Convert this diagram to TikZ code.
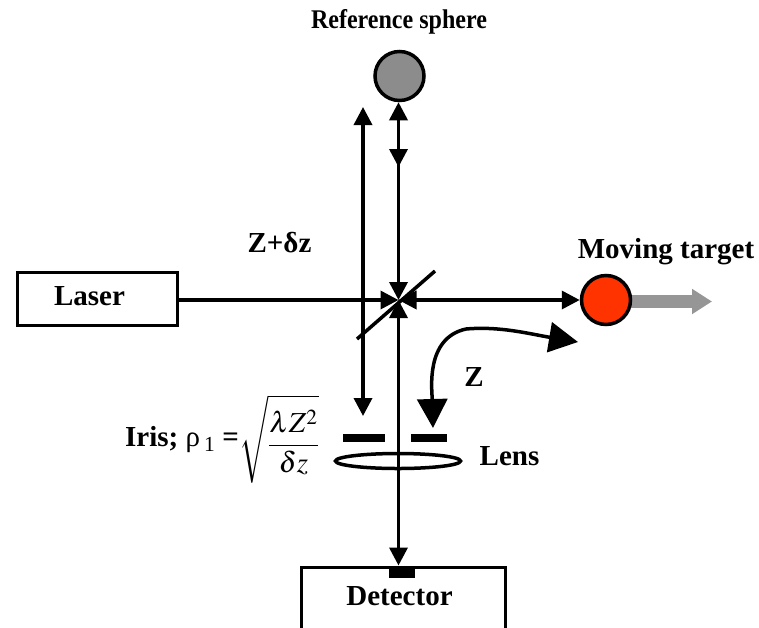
\documentclass[tikz,border=0pt]{standalone}
\usepackage{mathptmx}
\usepackage[no-math]{fontspec}
\setmainfont{Liberation Serif}
\usetikzlibrary{arrows.meta,shapes}
\definecolor{targetred}{RGB}{255,51,0}
\definecolor{spheregray}{RGB}{140,140,140}
\definecolor{motiongray}{RGB}{150,150,150}
\tikzset{
 lbl/.style={font=\fontsize{29}{32}\selectfont\bfseries,inner sep=0pt},
 box/.style={rectangle,draw,line width=3pt,inner sep=0pt},
 sphere/.style={circle,draw,line width=3.5pt,minimum size=49pt,inner sep=0pt},
 bar/.style={rectangle,fill=black,inner sep=0pt},
 beam/.style={line width=3.5pt,{Triangle[length=18pt,width=18pt]}-{Triangle[length=18pt,width=18pt]}},
 ray/.style={line width=3.5pt,-{Triangle[length=18pt,width=18pt]}},
 bigtip/.style={line width=3.5pt,{Triangle[length=29pt,width=30pt]}-{Triangle[length=29pt,width=30pt]}}
}
\begin{document}
\begin{tikzpicture}[x=1pt,y=-1pt]
 \useasboundingbox (0,0) rectangle (759,627);
 \clip (0,0) rectangle (759,627);
 % boxes
 \node [box,minimum width=160pt,minimum height=53pt] (laser) at (97,298.5) {};
 \node [lbl] (laserText) at (89.5,296) {Laser};
 \node [box,minimum width=204pt,minimum height=80pt] (detector) at (403,607) {};
 \node [bar,minimum width=26pt,minimum height=11pt] (pad) at (402,572.5) {};
 \node [lbl] (detectorText) at (399.5,596) {Detector};
 % gray arrow goes under the target
 \coordinate (arrowStart) at (606,301.5);
 \coordinate (arrowEnd) at (712,301.5);
 \draw [line width=13pt,motiongray,-{Triangle[length=20pt,width=24pt]}] (arrowStart) -- (arrowEnd);
 % spheres
 \node [sphere,fill=spheregray] (refSphere) at (399.5,76) {};
 \node [sphere,fill=targetred] (target) at (606,300) {};
 \node [lbl,font=\fontsize{27}{30}\selectfont\bfseries,xscale=0.89,transform shape] (refText) at (399,22) {Reference sphere};
 \node [lbl] (targetText) at (666,252) {Moving target};
 % points on the beams
 \coordinate (mirror) at (398.5,300);
 \coordinate (mirrorA) at (357,339);
 \coordinate (mirrorB) at (435,271);
 \coordinate (split) at (398.5,167);
 \coordinate (pathTop) at (363,107);
 \coordinate (pathEnd) at (363,416);
 \coordinate (curveA) at (578,342);
 \coordinate (curveB) at (433,428);
 \coordinate (curveC) at (466,329);
 % iris and lens
 \node [bar,minimum width=42pt,minimum height=8pt] (irisL) at (364,438) {};
 \node [bar,minimum width=36pt,minimum height=8pt] (irisR) at (429,438) {};
 \node [ellipse,draw,line width=3.5pt,minimum width=125pt,minimum height=15pt,inner sep=0pt] (lens) at (398,461) {};
 \node [lbl] (lensText) at (509.5,456) {Lens};
 \node [lbl,anchor=west] (irisText) at (125,440) {Iris; \textnormal{ρ\kern4pt\textsubscript{1}\kern7pt\textbf{=}}};
 \node [lbl,anchor=west,font=\fontsize{29}{32}\selectfont] (irisRoot) at (239,439) {$\displaystyle\sqrt{\frac{\lambda Z^2}{\delta z}}$};
 \node [lbl] (deltaText) at (279.5,243) {Z+δz};
 \node [lbl] (zText) at (474,377) {Z};
 % beams
 \draw [line width=3.5pt] (mirrorA) -- (mirrorB);
 \draw [ray] (laser.east |- mirror) -- (mirror);
 \draw [beam] (mirror) -- (target.west);
 \draw [beam] (refSphere.south -| mirror) -- (split);
 \draw [ray,shorten <=-17pt] (split) -- (mirror);
 \draw [beam] (mirror) -- (detector.north -| mirror);
 \draw [beam] (pathTop) -- (pathEnd);
 \draw [bigtip] (curveB) .. controls (432,390) and (425,338) .. (curveC) .. controls (500,326) and (530,334) .. (curveA);
\end{tikzpicture}
\end{document}
